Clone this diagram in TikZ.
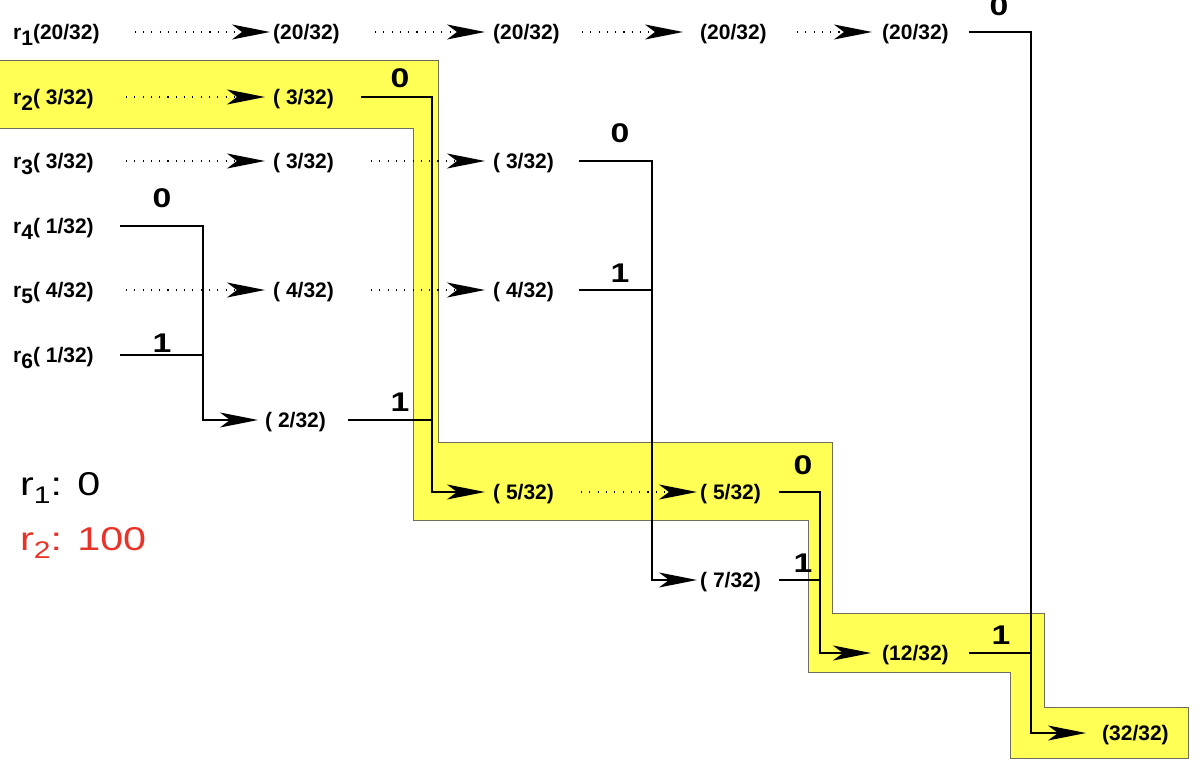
\documentclass[tikz,border=0pt]{standalone}
\usepackage{graphicx}
\usepackage{fontspec}
\setmainfont{Liberation Sans}
\usetikzlibrary{arrows.meta}
\definecolor{hl}{RGB}{255,255,85}
\definecolor{hlborder}{RGB}{110,110,90}
\definecolor{lred}{RGB}{232,52,40}
\newcommand\rsb[1]{r\raisebox{-6pt}{#1}}
\newcommand\edgelab[1]{\scalebox{1.25}[1]{#1}}
\begin{document}
\begin{tikzpicture}[x=1pt,y=-1pt,
  frac/.style={anchor=west, inner sep=0pt, text height=15pt, text depth=0pt,
    font=\bfseries\fontsize{21}{21}\selectfont},
  lab/.style={inner sep=0pt, font=\bfseries\fontsize{27}{27}\selectfont},
  tip/.style={-{Stealth[length=38pt,width=15pt,inset=10pt]}},
  dotarr/.style={tip, line width=1.1pt, dash pattern=on 1.1pt off 7.2pt},
  solidarr/.style={tip, line width=1.1pt},
  wire/.style={line width=1.1pt},
  legend/.style={anchor=base west, inner sep=0pt, font=\fontsize{33}{33}\selectfont}]
\useasboundingbox (0,0) rectangle (1200,770);

% highlighted path
\filldraw[fill=hl, draw=hlborder, line width=0.8pt]
  (-2,60) -- (438,60) -- (438,442) -- (832,442) -- (832,613) -- (1044,613)
  -- (1044,707) -- (1188,707) -- (1188,758) -- (1010,758) -- (1010,672)
  -- (808,672) -- (808,520) -- (413,520) -- (413,128) -- (-2,128) -- cycle;

% column 1
\node[frac] (a1) at (13,32)  {\rsb{1}(20/32)};
\node[frac] (a2) at (13,97)  {\rsb{2}( 3/32)};
\node[frac] (a3) at (13,161) {\rsb{3}( 3/32)};
\node[frac] (a4) at (13,226) {\rsb{4}( 1/32)};
\node[frac] (a5) at (13,290) {\rsb{5}( 4/32)};
\node[frac] (a6) at (13,355) {\rsb{6}( 1/32)};
% column 2
\node[frac] (b1) at (273,32)  {(20/32)};
\node[frac] (b2) at (273,97)  {( 3/32)};
\node[frac] (b3) at (273,161) {( 3/32)};
\node[frac] (b5) at (273,290) {( 4/32)};
\node[frac] (b7) at (265,420) {( 2/32)};
% column 3
\node[frac] (c1) at (493,32)  {(20/32)};
\node[frac] (c3) at (493,161) {( 3/32)};
\node[frac] (c5) at (493,290) {( 4/32)};
\node[frac] (c8) at (493,492) {( 5/32)};
% column 4
\node[frac] (d1) at (700,32)  {(20/32)};
\node[frac] (d8) at (700,492) {( 5/32)};
\node[frac] (d9) at (700,580) {( 7/32)};
% column 5
\node[frac] (e1)  at (882,32)  {(20/32)};
\node[frac] (e10) at (882,653) {(12/32)};
% final
\node[frac] (f) at (1102,733) {(32/32)};

% dotted (unchanged) arrows
\draw[dotarr, shorten <=35pt, shorten >=3pt] (a1.east) -- (b1.west);
\draw[dotarr, shorten <=32pt, shorten >=8pt] (a2.east) -- (b2.west);
\draw[dotarr, shorten <=32pt, shorten >=8pt] (a3.east) -- (b3.west);
\draw[dotarr, shorten <=32pt, shorten >=8pt] (a5.east) -- (b5.west);
\draw[dotarr, shorten <=35pt, shorten >=8pt] (b1.east) -- (c1.west);
\draw[dotarr, shorten <=37pt, shorten >=8pt] (b3.east) -- (c3.west);
\draw[dotarr, shorten <=37pt, shorten >=8pt] (b5.east) -- (c5.west);
\draw[dotarr, shorten <=22pt, shorten >=17pt] (c1.east) -- (d1.west);
\draw[dotarr, shorten <=30pt, shorten >=10pt] (d1.east) -- (e1.west);
\draw[dotarr, shorten <=27pt, shorten >=3pt] (c8.east) -- (d8.west);

% merge junctions
\coordinate (j1) at (203,226);
\coordinate (j2) at (432,97);
\coordinate (j3) at (652,161);
\coordinate (j4) at (820,492);
\coordinate (j5) at (1031,32);

\draw[solidarr, shorten >=7pt] ([xshift=26pt]a4.east) -- (j1) |- (b7.west);
\draw[wire] ([xshift=26pt]a6.east) -- (j1 |- a6.east);

\draw[solidarr, shorten >=8pt] ([xshift=27pt]b2.east) -- (j2) |- (c8.west);
\draw[wire] ([xshift=22pt]b7.east) -- (j2 |- b7.east);

\draw[solidarr, shorten >=3pt] ([xshift=25pt]c3.east) -- (j3) |- (d9.west);
\draw[wire] ([xshift=25pt]c5.east) -- (j3 |- c5.east);

\draw[solidarr, shorten >=11pt] ([xshift=18pt]d8.east) -- (j4) |- (e10.west);
\draw[wire] ([xshift=18pt]d9.east) -- (j4 |- d9.east);

\draw[solidarr, shorten >=16pt] ([xshift=20pt]e1.east) -- (j5) |- (f.west);
\draw[wire] ([xshift=20pt]e10.east) -- (j5 |- e10.east);

% edge labels
\node[lab] (l40) at (162,198) {\edgelab{0}};
\node[lab] (l61) at (162,343) {\edgelab{1}};
\node[lab] (l20) at (400,78)  {\edgelab{0}};
\node[lab] (l71) at (400,402) {\edgelab{1}};
\node[lab] (l30) at (620,133) {\edgelab{0}};
\node[lab] (l51) at (620,273) {\edgelab{1}};
\node[lab] (l80) at (803,465) {\edgelab{0}};
\node[lab] (l91) at (803,563) {\edgelab{1}};
\node[lab] (l10) at (999,6)   {\edgelab{0}};
\node[lab] (l11) at (1001,635) {\edgelab{1}};

% legend
\node[legend] (g1) at (20,495) {\scalebox{1.25}[1]{r\raisebox{-8pt}{\fontsize{24}{24}\selectfont 1}: 0}};
\node[legend, text=lred] (g2) at (20,550) {\scalebox{1.25}[1]{r\raisebox{-8pt}{\fontsize{24}{24}\selectfont 2}: 100}};
\end{tikzpicture}
\end{document}
